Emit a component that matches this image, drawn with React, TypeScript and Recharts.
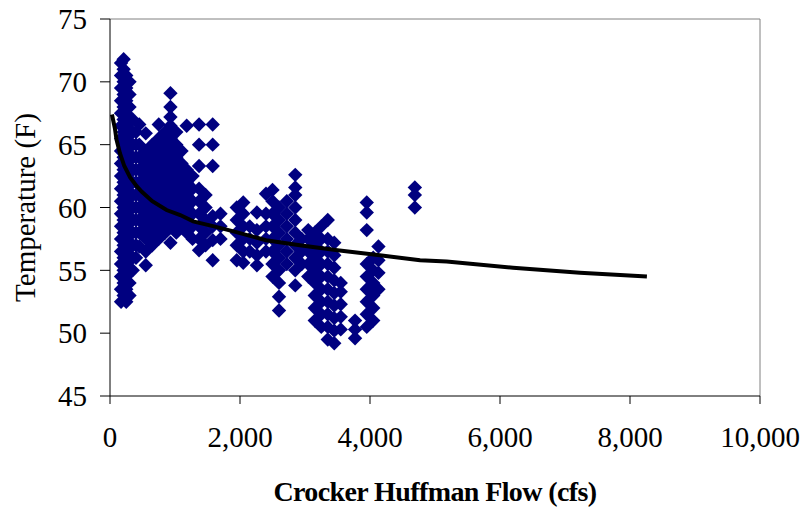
import { ScatterChart, Scatter, XAxis, YAxis, ReferenceLine, Label } from "recharts";

// each column: flow (cfs) and the temperatures (F) observed at that flow
type Column = [number, number[]];

const lowFlowColumns: Column[] = [
  [170, [52.5, 53.5, 54.5, 55.5, 56.5, 57.5, 58.5, 59.5, 60.5, 61.5, 62.5, 63.5, 64.5, 65.5, 66.5, 67.5, 68.5, 69.5, 70.5, 71.5]],
  [210, [53, 54, 55, 56, 57, 58, 59, 60, 61, 62, 63, 64, 65, 66, 67, 68, 69, 70, 71, 71.8]],
  [250, [52.5, 53.5, 54.5, 55.5, 56.5, 57.5, 58.5, 59.5, 60.5, 61.5, 62.5, 63.5, 64.5, 65.5, 66.5, 67.5, 68.5, 69.5, 70.5]],
  [300, [53, 54, 55, 56, 57, 58, 59, 60, 61, 62, 63, 64, 65, 66, 67, 68, 69, 70]],
  [350, [55, 56, 57, 58, 59, 60, 61, 62, 63, 64, 65, 66, 67]],
  [400, [56, 57, 58, 59, 60, 61, 62, 63, 64, 65, 66]],
];

const midFlowColumns: Column[] = [
  [450, [56.9, 58, 59, 60, 61, 62, 63, 64, 65, 66.6]],
  [550, [55.4, 56.5, 57.5, 58.5, 59.5, 60.5, 61.5, 62.5, 63.5, 64.5, 65.9]],
  [650, [57, 58, 59, 60, 61, 62, 63, 64, 65]],
  [750, [57.5, 58.5, 59.5, 60.5, 61.5, 62.5, 63.5, 64.5, 65.5, 66.6]],
  [850, [58, 59, 60, 61, 62, 63, 64, 65, 66]],
  [930, [57.2, 58.5, 59.5, 60.5, 61.5, 62.5, 63.5, 64.5, 65.5, 66.5, 67.2, 68, 69.1]],
  [1020, [58, 59, 60, 61, 62, 63, 64, 65, 66]],
  [1100, [58.5, 59.5, 60.5, 61.5, 62.5, 63.5, 64.5]],
  [1180, [58, 59, 60, 61, 62, 63, 66.5]],
  [1270, [57.5, 58.5, 59.5, 60.5, 61.5, 62.5]],
  [1370, [56.6, 57.5, 58.5, 59.5, 60.5, 61.5, 63.3, 65, 66.6]],
  [1470, [57, 58, 59, 60, 61]],
  [1580, [55.8, 57.4, 58.5, 59.3, 63.3, 65, 66.6]],
  [1700, [57.5, 58.5, 59.5]],
];

const highFlowColumns: Column[] = [
  [1950, [55.8, 57, 58, 59, 60]],
  [2050, [55.6, 56.5, 57.5, 58.5, 59.5, 60.4]],
  [2150, [56.5, 57.5, 58.5]],
  [2260, [55.4, 56.2, 57.2, 58.2, 59.6]],
  [2400, [56.5, 57.5, 58.5, 59.5, 61.1]],
  [2500, [54.5, 55.5, 56.5, 57.5, 58.5, 59.5, 60.5, 61.4]],
  [2600, [51.8, 52.9, 54, 55, 56, 57, 58, 59, 60]],
  [2720, [55.5, 56.5, 57.5, 58.5, 59.5, 60.5]],
  [2850, [53.8, 55, 56, 57, 58, 59, 60, 61, 61.6, 62.6]],
  [2950, [55.5, 56.5, 57.5]],
  [3050, [54.5, 55.5, 56.5, 57.5, 58.2]],
  [3150, [51, 52, 53, 54, 55, 56, 57, 58]],
  [3250, [50.5, 51.5, 52.5, 53.5, 54.5, 55.5, 56.5, 57.5, 58.5]],
  [3350, [49.5, 50.5, 51.5, 52.5, 53.5, 54.5, 55.5, 56.5, 57.5, 59]],
  [3450, [49.2, 50.2, 51.2, 52.2, 53.2, 54.2, 55.2, 56.2, 57.2]],
  [3550, [50.3, 51.3, 52.3, 53.3, 54]],
  [3770, [49.6, 50.3, 51]],
  [3950, [50.5, 51.5, 52.5, 53.5, 54.5, 55.5, 58.2, 59.6, 60.4]],
  [4050, [51, 52, 53, 54, 55, 56]],
  [4130, [53.5, 54.8, 55.8, 56.9]],
  [4690, [60, 61, 61.6]],
];

// fitted trend line
const trendFlows = [30, 75, 100, 154, 220, 310, 410, 490, 650, 870, 1080, 1280, 1600, 1900, 2400, 2920, 3500, 4150, 4770, 5180, 6200, 7230, 8260];
const trendTemps = [67.4, 66.3, 65.4, 64.3, 63.3, 62.4, 61.7, 61.25, 60.5, 59.8, 59.4, 58.9, 58.5, 58.1, 57.4, 57.0, 56.6, 56.2, 55.8, 55.7, 55.2, 54.8, 54.5];

const xTicks = [0, 2000, 4000, 6000, 8000, 10000];
const yTicks = [45, 50, 55, 60, 65, 70, 75];

const points = [...lowFlowColumns, ...midFlowColumns, ...highFlowColumns].flatMap(([x, temps]) =>
  temps.map((y) => ({ x, y }))
);
const trend = trendFlows.map((x, i) => ({ x, y: trendTemps[i] }));

const FONT = "'Liberation Serif', 'Times New Roman', serif";

function Diamond(props: any) {
  const { cx, cy } = props;
  const r = 7.2;
  return (
    <path
      d={`M${cx},${cy - r}L${cx + r},${cy}L${cx},${cy + r}L${cx - r},${cy}Z`}
      fill="#000080"
    />
  );
}

export default function App() {
  return (
    <div style={{ position: "absolute", left: 0, top: 0, background: "#fff", fontFamily: FONT }}>
      <ScatterChart width={803} height={512} margin={{ top: 19, right: 43, bottom: 56, left: 0 }}>
        <XAxis
          type="number"
          dataKey="x"
          domain={[0, 10000]}
          ticks={xTicks}
          height={60}
          tickSize={8}
          tickMargin={22}
          tickFormatter={(v: number) => v.toLocaleString("en-US")}
          tick={{ fill: "#000", fontSize: 29, fontFamily: FONT }}
          axisLine={{ stroke: "#000" }}
          tickLine={{ stroke: "#000" }}
        >
          <Label
            content={(p: any) => {
              const vb = p.viewBox || { x: 110, y: 396, width: 650 };
              return (
                <text
                  x={vb.x + vb.width / 2}
                  y={vb.y + 105}
                  textAnchor="middle"
                  fontFamily={FONT}
                  fontWeight="bold"
                  fontSize={28}
                  letterSpacing={-0.6}
                  fill="#000"
                >
                  Crocker Huffman Flow (cfs)
                </text>
              );
            }}
          />
        </XAxis>
        <YAxis
          type="number"
          dataKey="y"
          domain={[45, 75]}
          ticks={yTicks}
          width={110}
          tickSize={10}
          tickMargin={13}
          tick={{ fill: "#000", fontSize: 29, fontFamily: FONT }}
          axisLine={{ stroke: "#000" }}
          tickLine={{ stroke: "#000" }}
        >
          <Label
            content={(p: any) => {
              const vb = p.viewBox || { x: 0, y: 19, height: 377 };
              const cy = vb.y + vb.height / 2;
              return (
                <text
                  x={25}
                  y={cy}
                  transform={`rotate(-90, 25, ${cy})`}
                  textAnchor="middle"
                  dominantBaseline="central"
                  fontFamily={FONT}
                  fontSize={29}
                  fill="#000"
                >
                  Temperature (F)
                </text>
              );
            }}
          />
        </YAxis>
        <ReferenceLine y={75} stroke="#808080" />
        <ReferenceLine x={10000} stroke="#808080" />
        <Scatter data={points} shape={<Diamond />} isAnimationActive={false} />
        <Scatter
          data={trend}
          line={{ stroke: "#000", strokeWidth: 4 }}
          lineType="joint"
          shape={() => <g />}
          isAnimationActive={false}
        />
      </ScatterChart>
    </div>
  );
}
